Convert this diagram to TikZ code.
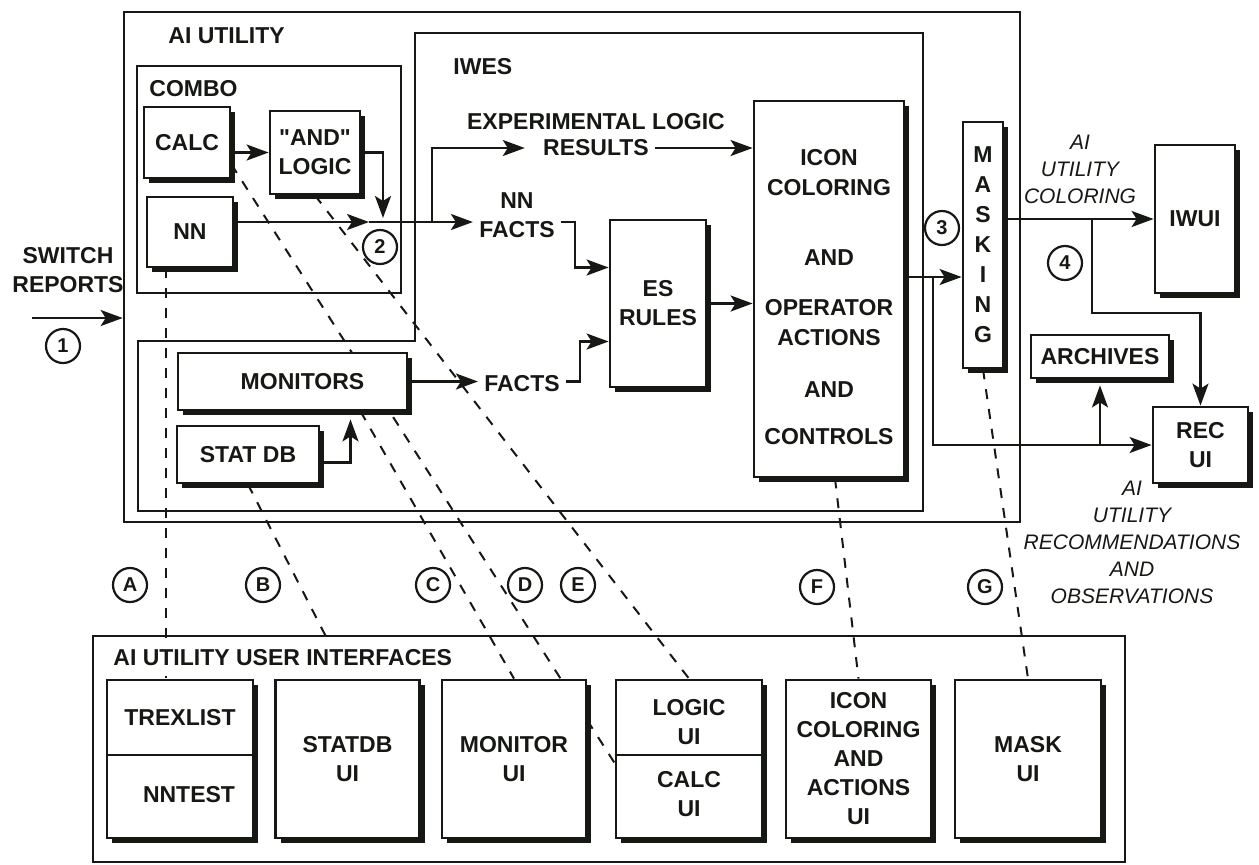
\documentclass[tikz,border=0pt]{standalone}
\usepackage{fontspec}
\setmainfont{Liberation Sans}
\usetikzlibrary{arrows.meta,shadows}
\pgfdeclarelayer{bg}
\pgfsetlayers{bg,main}
\newcommand\bftxt{\fontsize{11.5}{14.5}\selectfont\bfseries}
\newcommand\ittxt{\fontsize{10.5}{13.5}\selectfont\itshape}
\begin{document}
\begin{tikzpicture}[x=0.5pt,y=-0.5pt,line join=miter,
  cont/.style={draw=ink,line width=1.3pt,inner sep=0pt},
  shbox/.style={draw=ink,line width=1.4pt,fill=white,font=\bftxt,align=center,text=ink,
    inner sep=3pt,drop shadow={opacity=1,fill=ink,shadow xshift=2.5pt,shadow yshift=-2.5pt}},
  txt/.style={font=\bftxt,align=center,text=ink,inner sep=3pt},
  itxt/.style={font=\ittxt,align=center,text=ink,inner sep=2pt},
  lbl/.style={circle,draw=ink,line width=1.1pt,minimum size=17pt,inner sep=0pt,
    font=\fontsize{10}{10}\selectfont\bfseries,text=ink},
  conn/.style={draw=ink,line width=1.2pt},
  arr/.style={conn,-{Stealth[length=11pt,width=8pt,inset=2.5pt]}},
  dline/.style={draw=ink,line width=1pt,dash pattern=on 5pt off 5pt}]
  \definecolor{ink}{RGB}{22,24,20}
  \useasboundingbox (0,0) rectangle (1259,864);

  % ---- containers ----
  \node[cont,minimum width=448pt,minimum height=255pt] (aiutil) at (572,267) {};
  \node[cont,minimum width=132pt,minimum height=113.5pt] (combo) at (269,179.5) {};
  \draw[cont] (415,33) -- (923,33) -- (923,511) -- (138,511) -- (138,341) -- (415,341) -- cycle;
  \node[cont,minimum width=516pt,minimum height=113pt] (uibox) at (609,749) {};

  \node[txt,anchor=west] (aititle) at (162,36) {AI UTILITY};
  \node[txt,anchor=west] (combotitle) at (143,89) {COMBO};
  \node[txt,anchor=west] (iwestitle) at (447,67) {IWES};
  \node[txt,anchor=west,fill=white,inner xsep=1pt,inner ysep=5pt] (uititle) at (111,658) {AI UTILITY USER INTERFACES};

  % ---- AI utility boxes ----
  \node[shbox,minimum width=43pt,minimum height=35.5pt] (calc) at (187,142.5) {CALC};
  \node[shbox,minimum width=45pt,minimum height=41.5pt] (andlogic) at (315,152.5) {\textquotedbl AND\textquotedbl\\LOGIC};
  \node[shbox,minimum width=43pt,minimum height=35pt] (nn) at (190,232) {NN};
  \node[shbox,minimum width=114.5pt,minimum height=28.5pt] (monitors) at (292.5,381.5) {\hspace*{10pt}MONITORS};
  \node[shbox,minimum width=71pt,minimum height=28.5pt] (statdb) at (248,454.5) {STAT DB};
  \node[shbox,minimum width=48pt,minimum height=83.5pt] (es) at (658,303.5) {ES\\RULES};
  \node[shbox,minimum width=75pt,minimum height=188pt] (icon) at (829,289) {};
  \node[txt,font=\fontsize{11.5}{15}\selectfont\bfseries] (icontxt1) at (829,173) {ICON\\COLORING};
  \node[txt] (icontxt2) at (829,258) {AND};
  \node[txt,font=\fontsize{11.5}{15}\selectfont\bfseries] (icontxt3) at (829,322.5) {OPERATOR\\ACTIONS};
  \node[txt] (icontxt4) at (829,390) {AND};
  \node[txt] (icontxt5) at (829,437) {CONTROLS};
  \node[shbox,minimum width=20pt,minimum height=123pt,font=\fontsize{11.5}{15}\selectfont\bfseries] (masking) at (983,245) {M\\A\\S\\K\\I\\N\\G};
  \node[shbox,minimum width=40pt,minimum height=74pt] (iwui) at (1195,219) {IWUI};
  \node[shbox,minimum width=69pt,minimum height=21.5pt] (archives) at (1100,356.5) {ARCHIVES};
  \node[shbox,minimum width=47.5pt,minimum height=38pt] (recui) at (1200.5,445) {REC\\UI};

  % ---- flow labels ----
  \node[txt] (switch) at (68,270) {SWITCH\\REPORTS};
  \node[txt] (explog) at (596,122) {EXPERIMENTAL LOGIC};
  \node[txt] (results) at (596,148) {RESULTS};
  \node[txt] (nnfacts) at (517,215.5) {NN\\FACTS};
  \node[txt] (facts) at (522,384) {FACTS};
  \node[itxt] (colorlbl) at (1080,169.5) {AI\\UTILITY\\COLORING};
  \node[itxt] (reclbl) at (1132,542.5) {AI\\UTILITY\\RECOMMENDATIONS\\AND\\OBSERVATIONS};

  % ---- user interface boxes ----
  \node[shbox,minimum width=73pt,minimum height=79pt] (trexbox) at (180,759) {};
  \draw[conn,line width=1.4pt] ([yshift=2pt]trexbox.west) -- ([yshift=2pt]trexbox.east);
  \node[txt] (trex) at (180,718) {TREXLIST};
  \node[txt] (nntest) at (189,795) {NNTEST};
  \node[shbox,minimum width=72pt,minimum height=79pt] (statdbui) at (347.5,759) {STATDB\\UI};
  \node[shbox,minimum width=72pt,minimum height=79pt] (monitorui) at (514,759) {MONITOR\\UI};
  \node[shbox,minimum width=73pt,minimum height=79pt] (logicbox) at (689,759) {};
  \draw[conn,line width=1.4pt] ([yshift=2pt]logicbox.west) -- ([yshift=2pt]logicbox.east);
  \node[txt] (logicui) at (689,722) {LOGIC\\UI};
  \node[txt] (calcui) at (689,794) {CALC\\UI};
  \node[shbox,minimum width=72.5pt,minimum height=79pt] (iconui) at (858.5,759) {ICON\\COLORING\\AND\\ACTIONS\\UI};
  \node[shbox,minimum width=73pt,minimum height=79pt] (maskui) at (1028,759) {MASK\\UI};

  % ---- numbered and lettered marks ----
  \node[lbl] (m1) at (63,346) {1};
  \node[lbl] (m2) at (380,247) {2};
  \node[lbl] (m3) at (942,228) {3};
  \node[lbl] (m4) at (1065,263) {4};
  \node[lbl] (ma) at (130,585) {A};
  \node[lbl] (mb) at (263,585) {B};
  \node[lbl] (mc) at (433,585) {C};
  \node[lbl] (md) at (525,585) {D};
  \node[lbl] (me) at (578,585) {E};
  \node[lbl] (mf) at (817,587) {F};
  \node[lbl] (mg) at (985,587) {G};

  % ---- data flow ----
  \coordinate (swin) at (32,318);
  \coordinate (j2) at (383,222);
  \coordinate (bx) at (432,222);
  \coordinate (b3) at (933,277);
  \coordinate (b4) at (1092,219);

  \draw[arr] (swin) -- (swin -| aiutil.west);
  \draw[arr] (calc.east |- andlogic.west) -- (andlogic.west);
  \draw[arr] (andlogic.east) -| ([yshift=2pt]j2);
  \draw[arr] (nn.east |- j2) -- ([xshift=-7pt]j2);
  \draw[conn] ([xshift=-7pt]j2) -- (j2);
  \draw[arr] (j2) -- (j2 -| nnfacts.west);
  \draw[arr,shorten >=6pt] (bx) |- (results.west);
  \draw[arr] (results.east) -- (results.east -| icon.west);
  \draw[arr] (nnfacts.east |- j2) -- ++(7pt,0) |- ([yshift=18pt]es.west);
  \draw[arr] (monitors.east) -- (monitors.east -| facts.west);
  \draw[arr] (facts.east |- monitors.east) -- ++(7pt,0) |- ([yshift=-19pt]es.west);
  \draw[arr,shorten >=4pt] ([yshift=-4pt]statdb.east) -| ([xshift=29pt]monitors.south);
  \draw[arr] (es.east) -- (es.east -| icon.west);
  \draw[arr] ([yshift=6pt]icon.east) -- ([yshift=6pt]icon.east -| masking.west);
  \draw[arr] (b3) |- (recui.west);
  \draw[arr,shorten >=3pt] (recui.west -| archives.south) -- (archives.south);
  \draw[arr] (masking.east |- iwui.west) -- (iwui.west);
  \draw[arr] (b4) -- ++(0,-47pt) -| (recui.north);

  % ---- links to user interfaces ----
  \begin{pgfonlayer}{bg}
    \draw[dline] ([xshift=-12pt]nn.south) -- ([xshift=-12pt]nn.south |- trexbox.north);
    \draw[dline] (statdb.south) -- (statdbui.north);
    \draw[dline] ([xshift=34pt]monitors.south) -- (monitorui.north);
    \draw[dline] ([yshift=7.5pt]calc.south east) -- ([yshift=-2pt]logicbox.west);
    \draw[dline] (andlogic.south) -- (logicbox.north);
    \draw[dline] ([xshift=3pt]icon.south) -- (iconui.north);
    \draw[dline] (masking.south) -- (maskui.north);
  \end{pgfonlayer}
\end{tikzpicture}
\end{document}
